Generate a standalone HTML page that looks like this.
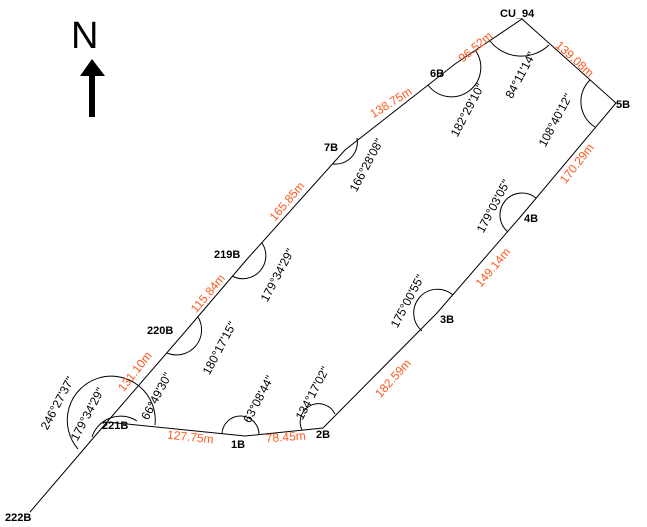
<!DOCTYPE html>
<html><head><meta charset="utf-8"><style>
html,body{margin:0;padding:0;background:#fff;}
svg{display:block;}
text{font-family:"Liberation Sans",Arial,sans-serif;font-size:12px;}
.b{font-weight:bold;fill:#000;font-size:11px;}
.o{fill:#ff5a1f;}
.k{fill:#000;}
</style></head><body>
<svg width="647" height="527" viewBox="0 0 647 527" xmlns="http://www.w3.org/2000/svg">
<g fill="none" stroke="#000" stroke-width="1">
<polyline points="30,512 107,422 184,333 248,258 345,150 455,64 522,19 616,103 522,215 437,313 323,428 245,436 107,422"/>
<path d="M 78,449 A 44 44 0 1 1 155,425"/>
<path d="M 92,437 A 30 30 0 0 1 137,421"/>
<path d="M 198,317 A 25 25 0 0 1 167,353"/>
<path d="M 262,243 A 23 23 0 0 1 232,276"/>
<path d="M 357,138 A 22 22 0 0 1 333,164"/>
<path d="M 475,50 A 26 26 0 0 1 428,85"/>
<path d="M 490,41 A 40 40 0 0 0 549,45"/>
<path d="M 590,80 A 30 30 0 0 0 595,127"/>
<path d="M 536,198 A 18 18 0 0 0 508,232"/>
<path d="M 453,295 A 20 20 0 0 0 422,331"/>
<path d="M 335,414 A 18 18 0 0 0 302,430"/>
<path d="M 222,434 A 18 18 0 0 1 259,435"/>
</g>
<text x="71" y="48" style="font-size:38px;font-family:'Liberation Sans',sans-serif" class="k">N</text>
<polygon points="92,59 80,76 105,76" fill="#000"/>
<rect x="89" y="75" width="6" height="42" fill="#000"/>
<text class="b" x="500" y="17">CU_94</text>
<text class="b" x="430" y="77">6B</text>
<text class="b" x="616" y="108">5B</text>
<text class="b" x="324" y="151">7B</text>
<text class="b" x="524" y="222">4B</text>
<text class="b" x="214" y="258">219B</text>
<text class="b" x="440" y="323">3B</text>
<text class="b" x="147" y="334">220B</text>
<text class="b" x="102" y="429">221B</text>
<text class="b" x="231" y="448">1B</text>
<text class="b" x="316" y="438">2B</text>
<text class="b" x="5" y="521">222B</text>
<text class="o" transform="translate(478,50) rotate(-40)" text-anchor="middle">96.52m</text>
<text class="o" transform="translate(572,62) rotate(42)" text-anchor="middle">139.08m</text>
<text class="o" transform="translate(393,106) rotate(-32)" text-anchor="middle">138.75m</text>
<text class="o" transform="translate(580,166) rotate(-52)" text-anchor="middle">170.29m</text>
<text class="o" transform="translate(290,204) rotate(-50)" text-anchor="middle">165.85m</text>
<text class="o" transform="translate(496,270) rotate(-50)" text-anchor="middle">149.14m</text>
<text class="o" transform="translate(211,296) rotate(-50)" text-anchor="middle">115.84m</text>
<text class="o" transform="translate(396,381) rotate(-48)" text-anchor="middle">182.59m</text>
<text class="o" transform="translate(138,374) rotate(-52)" text-anchor="middle">131.10m</text>
<text class="o" transform="translate(190,441) rotate(6)" text-anchor="middle">127.75m</text>
<text class="o" transform="translate(286,441) rotate(-4)" text-anchor="middle">78.45m</text>
<g class="k">
<text transform="translate(524,77) rotate(-62)" text-anchor="middle">84°11'14"</text>
<text transform="translate(471,112) rotate(-62)" text-anchor="middle">182°29'10"</text>
<text transform="translate(559,122) rotate(-62)" text-anchor="middle">108°40'12"</text>
<text transform="translate(370,167) rotate(-62)" text-anchor="middle">166°28'08"</text>
<text transform="translate(497,208) rotate(-62)" text-anchor="middle">179°03'05"</text>
<text transform="translate(281,277) rotate(-62)" text-anchor="middle">179°34'29"</text>
<text transform="translate(223,350) rotate(-62)" text-anchor="middle">180°17'15"</text>
<text transform="translate(411,303) rotate(-62)" text-anchor="middle">175°00'55"</text>
<text transform="translate(61,405) rotate(-62)" text-anchor="middle">246°27'37"</text>
<text transform="translate(91,416) rotate(-62)" text-anchor="middle">179°34'29"</text>
<text transform="translate(160,398) rotate(-62)" text-anchor="middle">66°49'30"</text>
<text transform="translate(262,401) rotate(-62)" text-anchor="middle">63°08'44"</text>
<text transform="translate(316,395) rotate(-62)" text-anchor="middle">134°17'02"</text>
</g>
</svg>
</body></html>
